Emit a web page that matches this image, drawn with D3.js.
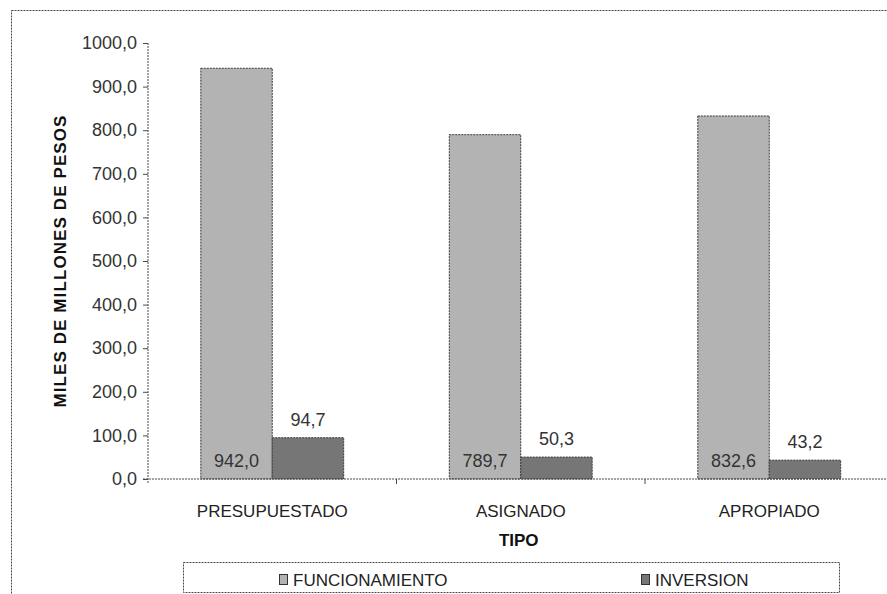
<!DOCTYPE html>
<html>
<head>
<meta charset="utf-8">
<script src="https://cdn.jsdelivr.net/npm/d3@7"></script>
<style>
  html, body { margin: 0; padding: 0; background: #fff; overflow: hidden; }
  svg { display: block; font-family: "Liberation Sans", Arial, sans-serif; }
</style>
</head>
<body>
<svg id="chart" width="887" height="594"></svg>
<script>
// Budget by type, thousands of millions of pesos
const categories = ["PRESUPUESTADO", "ASIGNADO", "APROPIADO"];
const seriesNames = ["FUNCIONAMIENTO", "INVERSION"];
const funcionamiento = [942.0, 789.7, 832.6];
const inversion = [94.7, 50.3, 43.2];
const yTicks = [0, 100, 200, 300, 400, 500, 600, 700, 800, 900, 1000];

const colors = { FUNCIONAMIENTO: "#b3b3b3", INVERSION: "#767676" };
const dash = "2,1";
const lineColor = "#4a4a4a";
const textColor = "#333";

const fmt = v => d3.format(".1f")(v).replace(".", ",");

const svg = d3.select("#chart");

// outer chart frame
svg.append("rect")
  .attr("x", 11.5).attr("y", 10.5)
  .attr("width", 900).attr("height", 620)
  .attr("fill", "#fff")
  .attr("stroke", lineColor).attr("stroke-dasharray", dash);

const x0 = 148, x1 = 893.5, yBase = 479, yTop = 43;

const x = d3.scaleBand().domain(categories).range([x0, x1])
  .paddingInner(0.425).paddingOuter(0.2125);
const xs = d3.scaleBand().domain(seriesNames).range([0, x.bandwidth()]);
const y = d3.scaleLinear().domain([0, 1000]).range([yBase, yTop]);

const rows = categories.map((c, i) => ({
  cat: c,
  vals: [
    { s: "FUNCIONAMIENTO", v: funcionamiento[i] },
    { s: "INVERSION", v: inversion[i] }
  ]
}));

// bars
const g = svg.append("g");
const groups = g.selectAll("g.grp").data(rows).join("g")
  .attr("class", "grp")
  .attr("transform", d => `translate(${x(d.cat)},0)`);

groups.selectAll("rect").data(d => d.vals).join("rect")
  .attr("x", d => xs(d.s))
  .attr("y", d => y(d.v))
  .attr("width", xs.bandwidth())
  .attr("height", d => y(0) - y(d.v))
  .attr("fill", d => colors[d.s])
  .attr("stroke", "#3a3a3a")
  .attr("stroke-dasharray", dash);

// value labels
groups.selectAll("text.val").data(d => d.vals).join("text")
  .attr("class", "val")
  .attr("x", d => xs(d.s) + xs.bandwidth() / 2)
  .attr("y", d => d.s === "FUNCIONAMIENTO" ? y(0) - 12 : y(d.v) - 12)
  .attr("text-anchor", "middle")
  .attr("font-size", 18)
  .attr("fill", textColor)
  .text(d => fmt(d.v));

// y axis
const yAxis = svg.append("g")
  .attr("transform", `translate(${x0},0)`)
  .call(d3.axisLeft(y).tickValues(yTicks).tickSize(5).tickSizeOuter(0).tickFormat(fmt));
yAxis.select(".domain").remove();
yAxis.selectAll(".tick line").attr("stroke", lineColor);
yAxis.selectAll(".tick text")
  .attr("x", -11)
  .attr("font-size", 18)
  .attr("font-family", "Liberation Sans, Arial, sans-serif")
  .attr("fill", textColor);
svg.append("line")
  .attr("x1", x0).attr("x2", x0).attr("y1", yTop).attr("y2", yBase + 5)
  .attr("stroke", lineColor).attr("stroke-dasharray", dash);

// x axis
svg.append("line")
  .attr("x1", x0 - 5).attr("x2", x1).attr("y1", yBase).attr("y2", yBase)
  .attr("stroke", lineColor).attr("stroke-dasharray", dash);
const boundaries = categories.map(c => x(c) - x.step() * x.paddingOuter());
svg.selectAll("line.xtick").data(boundaries.slice(1)).join("line")
  .attr("class", "xtick")
  .attr("x1", d => d).attr("x2", d => d)
  .attr("y1", yBase).attr("y2", yBase + 5)
  .attr("stroke", lineColor);

svg.selectAll("text.cat").data(categories).join("text")
  .attr("class", "cat")
  .attr("x", d => x(d) + x.bandwidth() / 2)
  .attr("y", 517)
  .attr("text-anchor", "middle")
  .attr("font-size", 17)
  .attr("fill", "#222")
  .text(d => d);

// axis titles
svg.append("text")
  .attr("x", (x0 + x1) / 2 - 2).attr("y", 546)
  .attr("text-anchor", "middle")
  .attr("font-size", 17).attr("font-weight", "bold")
  .attr("fill", "#111")
  .text("TIPO");

svg.append("text")
  .attr("transform", `translate(66,${(yBase + yTop) / 2}) rotate(-90)`)
  .attr("text-anchor", "middle")
  .attr("font-size", 17).attr("font-weight", "bold")
  .attr("letter-spacing", 1.1)
  .attr("fill", "#111")
  .text("MILES DE MILLONES DE PESOS");

// legend
const leg = svg.append("g");
leg.append("rect")
  .attr("x", 183.5).attr("y", 562.5).attr("width", 656).attr("height", 30)
  .attr("fill", "#fff").attr("stroke", lineColor).attr("stroke-dasharray", dash);
const legX = [279, 641];
seriesNames.forEach((s, i) => {
  leg.append("rect")
    .attr("x", legX[i] + 0.5).attr("y", 574.5).attr("width", 8).attr("height", 10)
    .attr("fill", colors[s]).attr("stroke", "#333").attr("stroke-width", 1);
  leg.append("text")
    .attr("x", legX[i] + 14).attr("y", 585.5)
    .attr("font-size", 17)
    .attr("fill", "#222")
    .text(s);
});
</script>
</body>
</html>
